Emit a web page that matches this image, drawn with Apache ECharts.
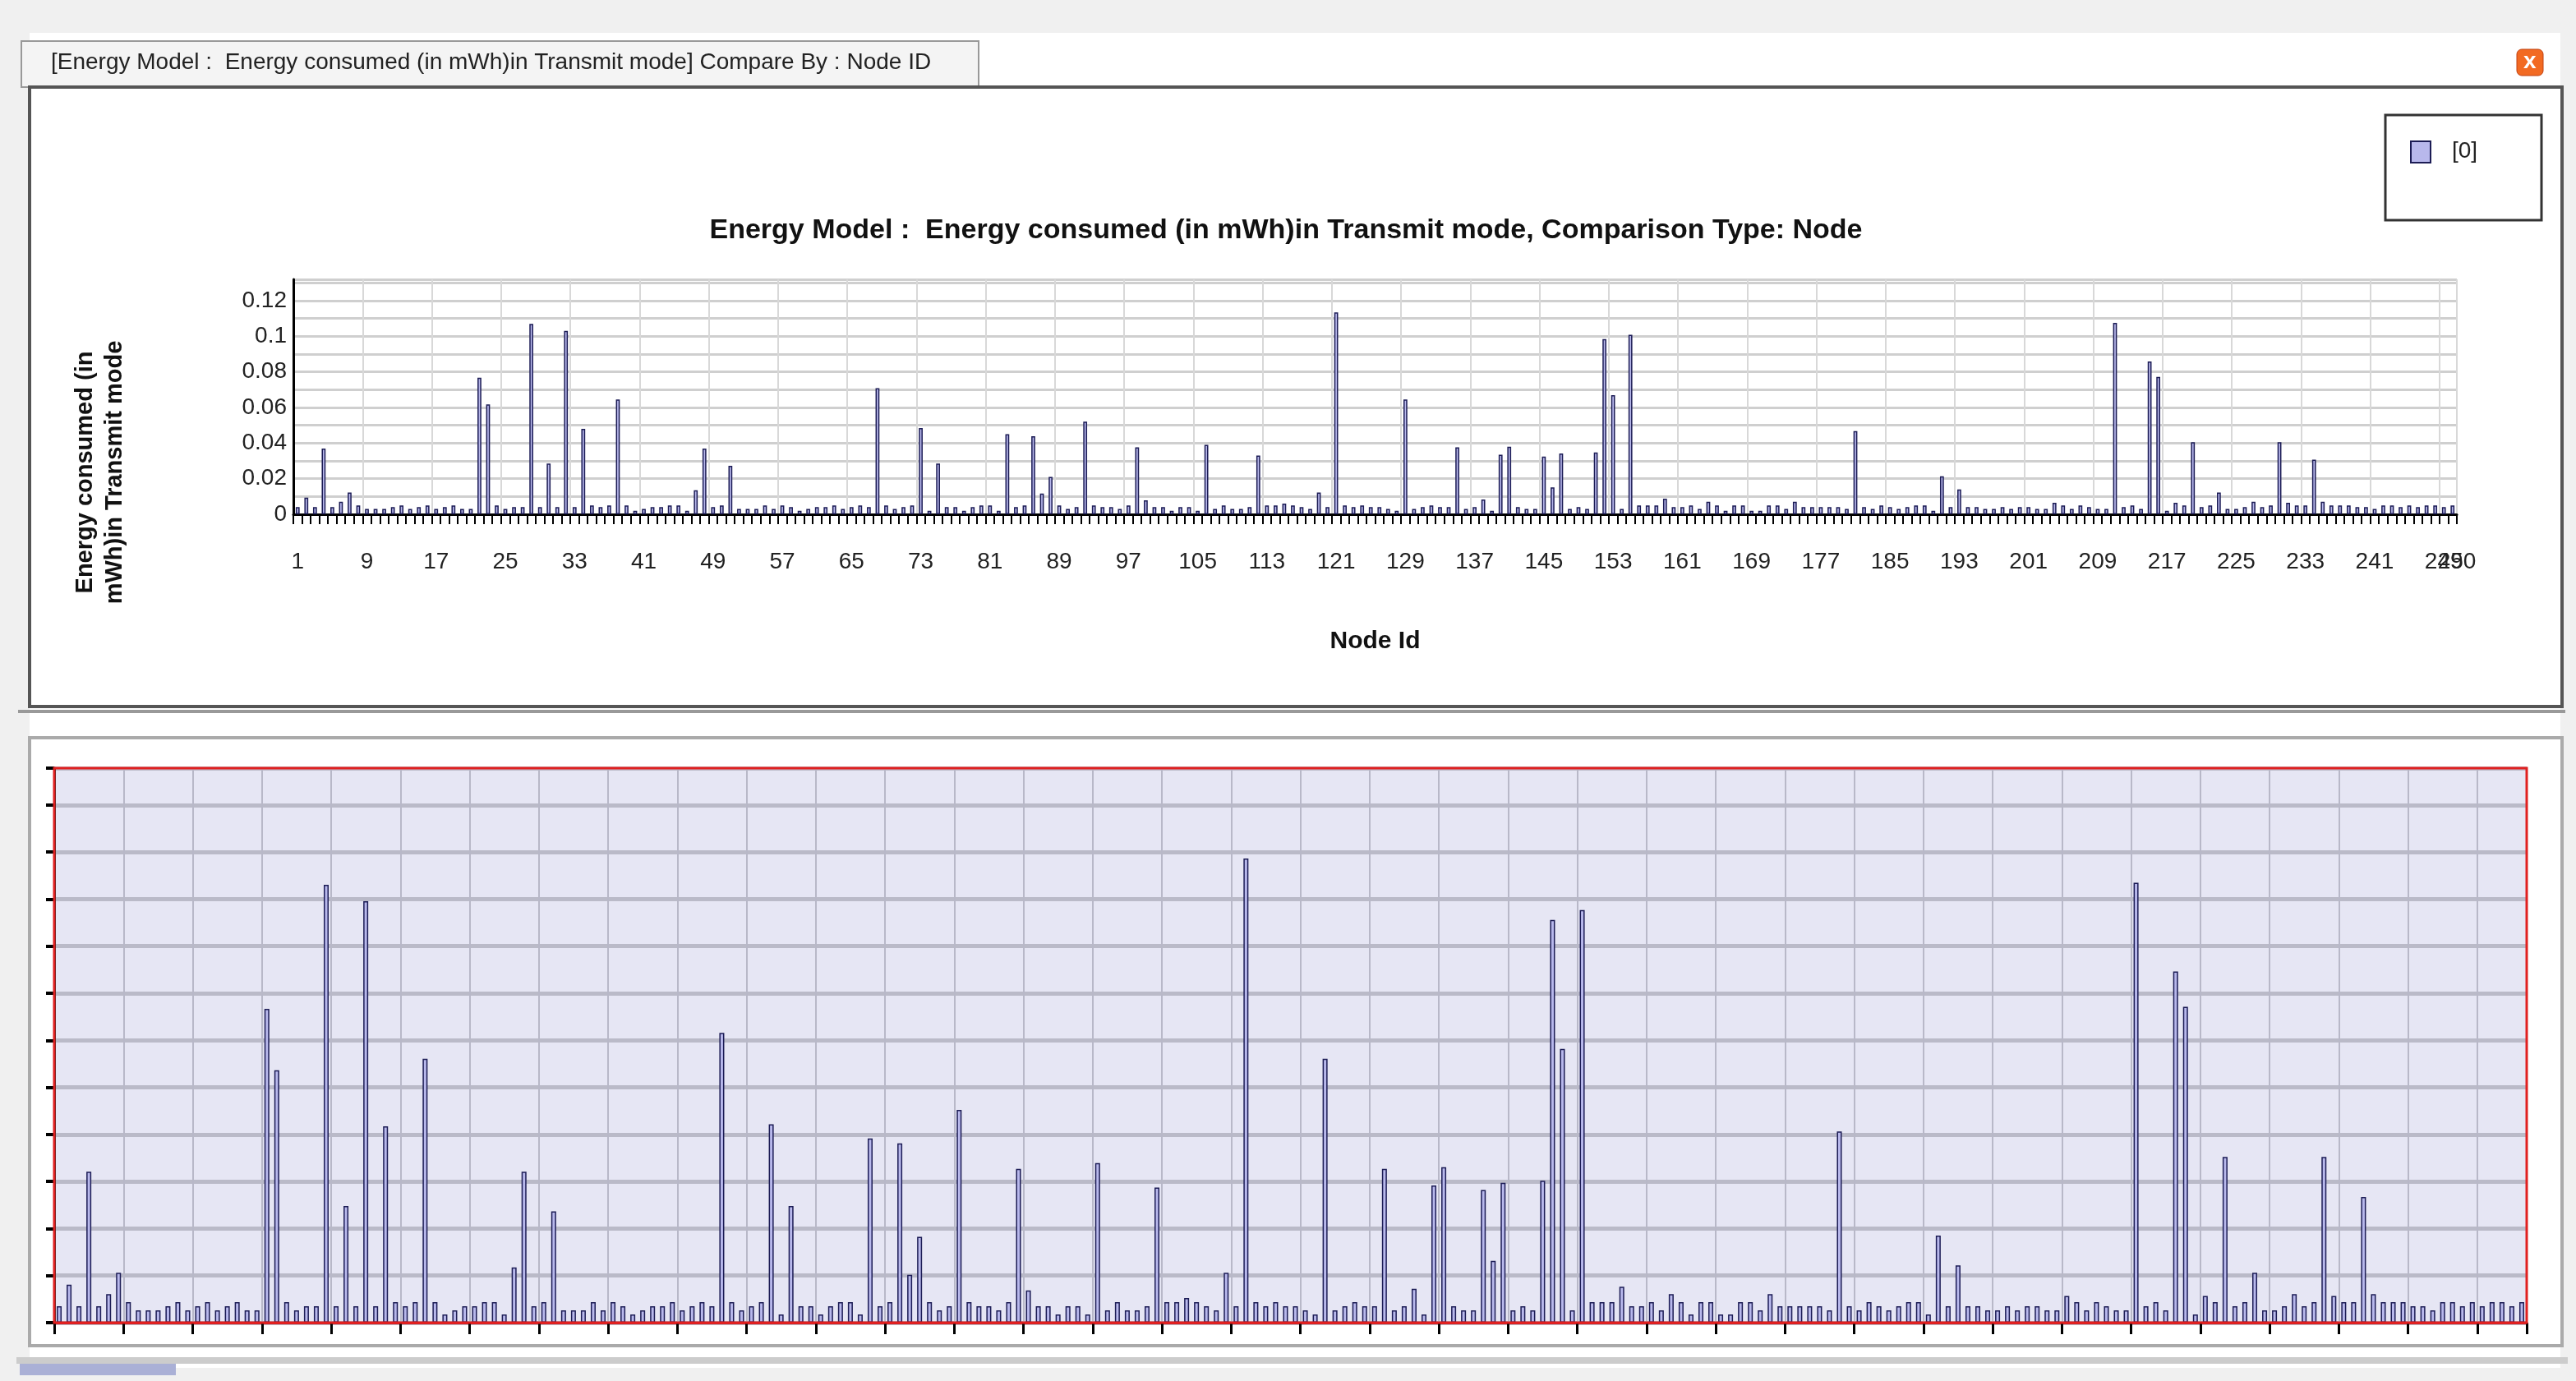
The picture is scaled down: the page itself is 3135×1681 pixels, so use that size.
<!DOCTYPE html>
<html><head><meta charset="utf-8">
<script src="https://cdn.jsdelivr.net/npm/echarts@6/dist/echarts.min.js"></script>
<style>html,body{margin:0;padding:0;background:#fff}#c{width:3135px;height:1681px}</style>
</head><body><div id="c"></div>
<script>
const nodes = Array.from({length:250},(_, i)=>String(i+1));
const energy = [
0.004,0.0093,0.004,0.0369,0.004,0.007,0.0122,0.005,0.003,0.003,
0.003,0.004,0.005,0.003,0.004,0.005,0.003,0.004,0.005,0.003,
0.003,0.0767,0.0617,0.005,0.003,0.004,0.004,0.107,0.004,0.0285,
0.004,0.103,0.004,0.048,0.005,0.004,0.005,0.0645,0.005,0.002,
0.003,0.004,0.004,0.005,0.005,0.002,0.0135,0.0369,0.004,0.005,
0.0272,0.003,0.003,0.003,0.005,0.003,0.005,0.004,0.002,0.003,
0.004,0.004,0.005,0.003,0.004,0.005,0.004,0.0708,0.005,0.003,
0.004,0.005,0.0485,0.002,0.0285,0.004,0.004,0.002,0.004,0.005,
0.005,0.002,0.045,0.004,0.005,0.0438,0.0117,0.021,0.005,0.003,
0.004,0.052,0.005,0.004,0.004,0.003,0.005,0.0376,0.0079,0.004,
0.004,0.002,0.004,0.004,0.002,0.039,0.003,0.005,0.003,0.003,
0.004,0.033,0.005,0.005,0.006,0.005,0.004,0.003,0.0122,0.004,
0.1134,0.005,0.004,0.005,0.004,0.004,0.003,0.002,0.0645,0.003,
0.004,0.005,0.004,0.004,0.0376,0.003,0.004,0.0083,0.002,0.0335,
0.038,0.004,0.003,0.003,0.0324,0.0151,0.0342,0.003,0.004,0.003,
0.0347,0.0984,0.0669,0.003,0.1008,0.005,0.005,0.005,0.0088,0.004,
0.004,0.005,0.003,0.007,0.005,0.002,0.005,0.005,0.002,0.002,
0.005,0.005,0.003,0.007,0.004,0.004,0.004,0.004,0.004,0.003,
0.0467,0.004,0.003,0.005,0.004,0.003,0.004,0.005,0.005,0.002,
0.0213,0.004,0.014,0.004,0.004,0.003,0.003,0.004,0.003,0.004,
0.004,0.003,0.003,0.0065,0.005,0.003,0.005,0.004,0.003,0.003,
0.1075,0.004,0.005,0.003,0.0858,0.0772,0.002,0.0065,0.005,0.0405,
0.004,0.005,0.0122,0.003,0.003,0.004,0.007,0.004,0.005,0.0405,
0.0065,0.005,0.005,0.0307,0.007,0.005,0.005,0.005,0.004,0.004,
0.003,0.005,0.005,0.004,0.005,0.004,0.005,0.005,0.004,0.005];
const yTickLabels = ['0','0.02','0.04','0.06','0.08','0.1','0.12'];
const titleText = 'Energy Model :  Energy consumed (in mWh)in Transmit mode, Comparison Type: Node';
const tabText = '[Energy Model :  Energy consumed (in mWh)in Transmit mode] Compare By : Node ID';
const lastNodeLabel = '250';

const F = 'Liberation Sans';
const barStyle = {color:'#b8b8ec', borderColor:'#1c1c55', borderWidth:1.5};
const chart = echarts.init(document.getElementById('c'));
chart.setOption({
  animation:false,
  textStyle:{fontFamily:F},
  graphic:[
    {type:'rect',shape:{x:0,y:0,width:3135,height:1681},style:{fill:'#f0f0f0'},z:-10},
    {type:'rect',shape:{x:36,y:40,width:3080,height:1625},style:{fill:'#ffffff'},z:-9},
    {type:'rect',shape:{x:26,y:50,width:1165,height:56},style:{fill:'#f4f4f4',stroke:'#999',lineWidth:2},z:-8},
    {type:'text',x:62,y:62,style:{text:tabText,font:'28px '+F,fill:'#222'}},
    {type:'rect',shape:{x:3063,y:60,width:32,height:32,r:6},style:{fill:'#f26a22',stroke:'#c04010'}},
    {type:'text',x:3071,y:61,style:{text:'x',font:'bold 28px '+F,fill:'#fff'}},
    {type:'rect',shape:{x:36,y:106,width:3082,height:754},style:{fill:'#fff',stroke:'#555',lineWidth:4},z:-7},
    {type:'rect',shape:{x:22,y:864,width:3100,height:4},style:{fill:'#999'},z:-7},
    {type:'rect',shape:{x:36,y:898,width:3082,height:740},style:{fill:'#fff',stroke:'#aaa',lineWidth:4},z:-7},
    {type:'rect',shape:{x:20,y:1652,width:3105,height:8},style:{fill:'#ccc'},z:-7},
    {type:'rect',shape:{x:24,y:1660,width:190,height:14},style:{fill:'#aab0d6'},z:-7},
    {type:'rect',shape:{x:2903,y:140,width:190,height:128},style:{fill:'#fff',stroke:'#333',lineWidth:3}},
    {type:'rect',shape:{x:2934,y:172,width:24,height:26},style:{fill:'#b8b8ec',stroke:'#1c1c55',lineWidth:2}},
    {type:'text',x:2984,y:170,style:{text:'[0]',font:'28px '+F,fill:'#222'}},
    {type:'text',x:1565,y:264,style:{text:titleText,font:'bold 34px '+F,fill:'#111',align:'center'}},
    {type:'text',x:86,y:575,rotation:Math.PI/2,style:{text:'Energy consumed (in\nmWh)in Transmit mode',font:'bold 29px '+F,fill:'#111',lineHeight:36,align:'center'}},
    {type:'text',x:2990,y:670,style:{text:lastNodeLabel,font:'28px '+F,fill:'#222',align:'center'}},
    {type:'rect',shape:{x:66,y:935,width:3009,height:675},style:{fill:'none',stroke:'#e02020',lineWidth:3},z:20}
  ],
  grid:[
    {left:357,top:340,width:2633,height:286,show:false},
    {left:66,top:935,width:3009,height:675,show:true,backgroundColor:'#e6e6f4',borderWidth:0}
  ],
  xAxis:[
    {type:'category',gridIndex:0,data:nodes,name:'Node Id',nameLocation:'middle',nameGap:140,
     nameTextStyle:{fontFamily:F,fontSize:30,fontWeight:'bold',color:'#111'},
     axisLine:{lineStyle:{color:'#000',width:3}},
     axisTick:{show:true,interval:0,length:12,lineStyle:{color:'#000',width:2}},
     axisLabel:{interval:(i)=>i%8===0,fontSize:28,color:'#222',margin:44,fontFamily:F},
     splitLine:{show:true,interval:7,lineStyle:{color:'#d8d8d8',width:2}}},
    {type:'category',gridIndex:1,data:nodes,
     axisLine:{lineStyle:{color:'#e02020',width:3}},
     axisTick:{show:true,interval:6,length:14,lineStyle:{color:'#000',width:3}},
     axisLabel:{show:false},
     splitLine:{show:true,interval:6,lineStyle:{color:'#b8b8c8',width:2}}}
  ],
  yAxis:[
    {type:'value',gridIndex:0,min:0,max:0.132,interval:0.01,
     axisLine:{show:true,lineStyle:{color:'#000',width:3}},
     axisTick:{show:false},
     axisLabel:{fontSize:28,color:'#222',fontFamily:F,showMaxLabel:false,
       formatter:(v)=>{const k=Math.round(v/0.02*1000)/1000;return Number.isInteger(k)?yTickLabels[k]:'';}},
     splitLine:{lineStyle:{color:'#cfcfcf',width:3}}},
    {type:'value',gridIndex:1,min:0,max:0.1355,interval:0.0115,
     axisLine:{show:true,lineStyle:{color:'#222',width:3}},
     axisTick:{show:true,length:10,lineStyle:{color:'#000',width:4}},
     axisLabel:{show:false},
     splitLine:{lineStyle:{color:'#babac8',width:5}}}
  ],
  series:[
    {type:'bar',xAxisIndex:0,yAxisIndex:0,data:energy,barWidth:'45%',itemStyle:barStyle},
    {type:'bar',xAxisIndex:1,yAxisIndex:1,data:energy,barWidth:'50%',itemStyle:barStyle}
  ]
});
</script></body></html>
